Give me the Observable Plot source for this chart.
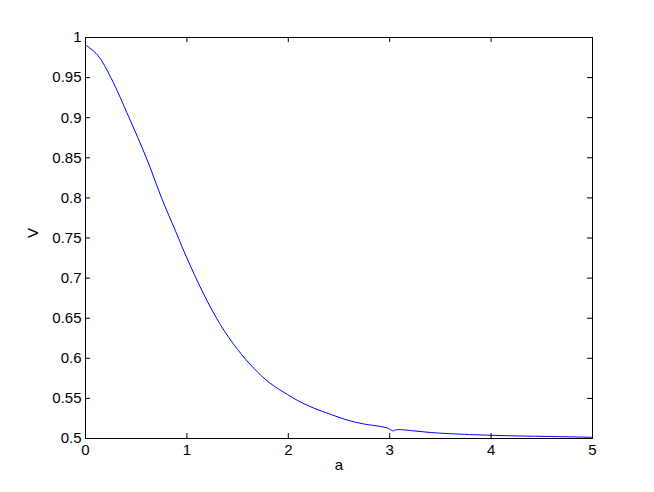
<!DOCTYPE html>
<html>
<head>
<meta charset="utf-8">
<script src="https://cdn.jsdelivr.net/npm/d3@7"></script>
<script src="https://cdn.jsdelivr.net/npm/@observablehq/plot@0.6"></script>
<style>
  html, body { margin: 0; padding: 0; background: #fff; }
  #chart svg { display: block; }
</style>
</head>
<body>
<div id="chart"></div>
<script>
const aValues = [0, 0.12, 0.25, 0.43, 0.60, 0.75, 0.89, 1.00, 1.17, 1.33, 1.50, 1.66, 1.82, 1.99, 2.09, 2.25, 2.42, 2.58, 2.75, 2.91, 2.99, 3.03, 3.07, 3.24, 3.40, 3.60, 4.0, 4.58, 5.0];
const vValues = [0.991, 0.978, 0.95, 0.90, 0.85, 0.80, 0.758, 0.725, 0.679, 0.642, 0.611, 0.5875, 0.569, 0.555, 0.5475, 0.538, 0.530, 0.523, 0.518, 0.515, 0.5125, 0.5095, 0.511, 0.5095, 0.5075, 0.506, 0.504, 0.5025, 0.5015];
const xTicks = [0, 1, 2, 3, 4, 5];
const yTicks = [0.5, 0.55, 0.6, 0.65, 0.7, 0.75, 0.8, 0.85, 0.9, 0.95, 1];
const xLabel = "a";
const yLabel = "V";

const data = aValues.map((a, i) => ({a, v: vValues[i]}));
const fmt = d => String(+d.toFixed(2));
const font = "'Liberation Sans', Arial, Helvetica, sans-serif";

const chart = Plot.plot({
  width: 654,
  height: 492,
  marginLeft: 85,
  marginRight: 62,
  marginTop: 37,
  marginBottom: 54,
  style: {fontFamily: font, fontSize: "15px", color: "#000", background: "#fff"},
  x: {domain: [0, 5]},
  y: {domain: [0.5, 1]},
  marks: [
    Plot.line(data, {x: "a", y: "v", stroke: "#0000ff", strokeWidth: 1, curve: "catmull-rom"}),
    Plot.tickX(xTicks, {x: d => d, stroke: "#000", insetTop: 396}),
    Plot.tickX(xTicks, {x: d => d, stroke: "#000", insetBottom: 396}),
    Plot.tickY(yTicks, {y: d => d, stroke: "#000", insetRight: 502}),
    Plot.tickY(yTicks, {y: d => d, stroke: "#000", insetLeft: 502}),
    Plot.frame({stroke: "#000", strokeWidth: 1}),
    Plot.axisX(xTicks, {tickSize: 0, tickPadding: 6, tickFormat: fmt, label: null, fontSize: 15}),
    Plot.axisY(yTicks, {tickSize: 0, tickPadding: 4, tickFormat: fmt, label: null, fontSize: 15}),
    Plot.text([xLabel], {frameAnchor: "bottom", dy: 31, text: d => d, fontSize: 15, fill: "#000"}),
    Plot.text([yLabel], {frameAnchor: "left", dx: -52, rotate: -90, text: d => d, fontSize: 15, fill: "#000"})
  ]
});
document.getElementById("chart").appendChild(chart);
</script>
</body>
</html>
